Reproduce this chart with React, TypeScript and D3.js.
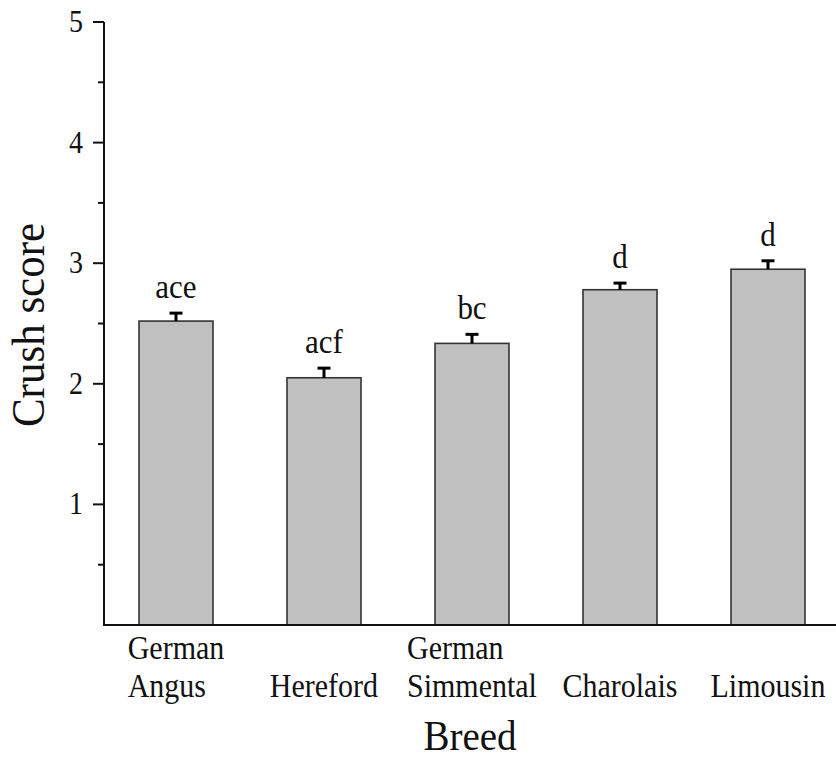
import React from "react";
import * as d3 from "d3";

const breeds: string[][] = [
  ["German", "Angus"],
  ["Hereford"],
  ["German", "Simmental"],
  ["Charolais"],
  ["Limousin"],
];
const means = [2.52, 2.05, 2.335, 2.78, 2.95];
const errors = [0.066, 0.08, 0.075, 0.055, 0.07];
const letters = ["ace", "acf", "bc", "d", "d"];
const yTicks = [1, 2, 3, 4, 5];
const yMinorTicks = [0.5, 1.5, 2.5, 3.5, 4.5];

const W = 836;
const H = 761;
const FONT = "'Liberation Serif', 'Times New Roman', serif";
const SY = 1.09;

function measure(text: string, size: number): number {
  if (typeof document === "undefined") return text.length * size * 0.45;
  const c = document.createElement("canvas").getContext("2d");
  if (!c) return text.length * size * 0.45;
  c.font = `${size}px 'Liberation Serif'`;
  return c.measureText(text).width;
}

function T({
  x,
  y,
  size,
  anchor = "middle",
  children,
}: {
  x: number;
  y: number;
  size: number;
  anchor?: string;
  children: React.ReactNode;
}) {
  return (
    <g transform={`translate(${x},${y}) scale(1,${SY})`}>
      <text x={0} y={0} textAnchor={anchor} fontSize={size} fill="#111">
        {children}
      </text>
    </g>
  );
}

export default function App() {
  const x0 = 104;
  const y = d3.scaleLinear().domain([0, 5]).range([625, 22]);
  const x = d3
    .scaleBand<number>()
    .domain(d3.range(breeds.length))
    .range([102, 842])
    .paddingInner(0.5)
    .paddingOuter(0.25);
  const bw = x.bandwidth();
  const catSize = 30;

  return (
    <svg
      width={W}
      height={H}
      style={{ position: "absolute", left: 0, top: 0, background: "#fff" }}
      fontFamily={FONT}
    >
      {means.map((m, i) => {
        const cx = (x(i) as number) + bw / 2;
        const capY = y(m + errors[i]);
        return (
          <g key={i}>
            <rect
              x={x(i)}
              y={y(m)}
              width={bw}
              height={y(0) - y(m)}
              fill="#c0c0c0"
              stroke="#333"
              strokeWidth={1.6}
            />
            <line x1={cx} x2={cx} y1={y(m)} y2={capY} stroke="#000" strokeWidth={3} />
            <line x1={cx - 6.5} x2={cx + 6.5} y1={capY} y2={capY} stroke="#000" strokeWidth={3} />
            <T x={cx} y={capY - 15} size={31}>
              {letters[i]}
            </T>
          </g>
        );
      })}

      {/* axes */}
      <line x1={x0} x2={x0} y1={y(5)} y2={y(0) + 1} stroke="#111" strokeWidth={2} />
      <line x1={x0 - 1} x2={W} y1={y(0)} y2={y(0)} stroke="#111" strokeWidth={2.2} />
      {yTicks.map((t) => (
        <g key={t}>
          <line x1={x0 - 11} x2={x0} y1={y(t)} y2={y(t)} stroke="#111" strokeWidth={2} />
          <T x={x0 - 21} y={y(t) + 10} size={28} anchor="end">
            {t}
          </T>
        </g>
      ))}
      {yMinorTicks.map((t) => (
        <line key={t} x1={x0 - 6} x2={x0} y1={y(t)} y2={y(t)} stroke="#111" strokeWidth={2} />
      ))}

      {/* category labels: lines left-aligned, block centred under bar */}
      {breeds.map((lines, i) => {
        const cx = (x(i) as number) + bw / 2;
        const wMax = Math.max(...lines.map((l) => measure(l, catSize)));
        const left = cx - wMax / 2;
        const ys = lines.length === 2 ? [659, 697] : [697];
        return (
          <g key={i}>
            {lines.map((l, j) => (
              <T key={j} x={left} y={ys[j]} size={catSize} anchor="start">
                {l}
              </T>
            ))}
          </g>
        );
      })}

      <T x={470} y={750} size={39}>
        Breed
      </T>
      <g transform={`translate(44,325) rotate(-90) scale(1,${SY})`}>
        <text x={0} y={0} textAnchor="middle" fontSize={43} fill="#111">
          Crush score
        </text>
      </g>
    </svg>
  );
}
